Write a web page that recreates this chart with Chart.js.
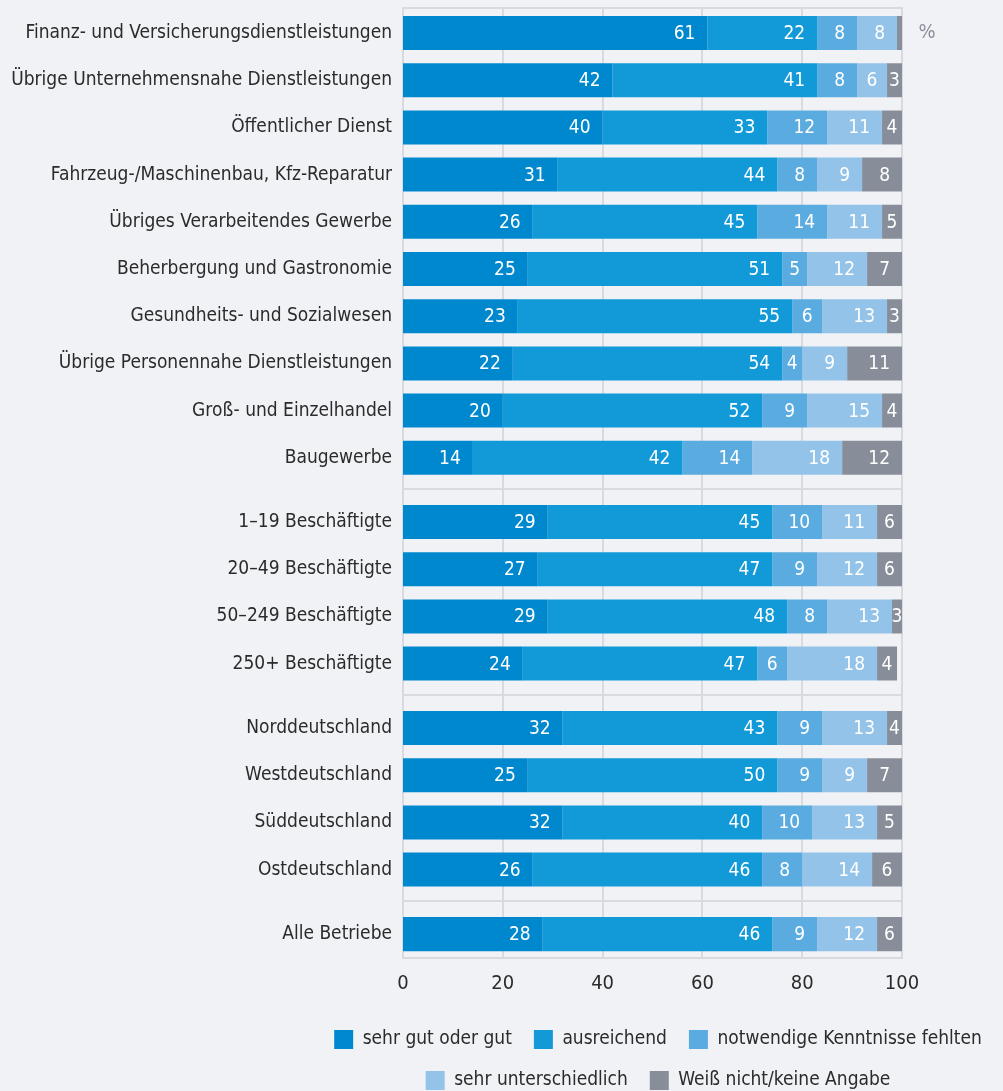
<!DOCTYPE html>
<html lang="de">
<head>
<meta charset="utf-8">
<script src="https://cdn.jsdelivr.net/npm/chart.js@4.4.1/dist/chart.umd.min.js"></script>
<style>
  html, body { margin: 0; padding: 0; background: #f1f2f6; overflow: hidden; }
  #wrap { position: relative; width: 1003px; height: 1091px; overflow: hidden; }
  #wrap canvas { position: absolute; left: 0; }
</style>
</head>
<body>
<div id="wrap">
  <canvas id="c0" width="1100" height="489" style="top:0"></canvas>
  <canvas id="c1" width="1100" height="206" style="top:489px"></canvas>
  <canvas id="c2" width="1100" height="206" style="top:695px"></canvas>
  <canvas id="c3" width="1100" height="199" style="top:901px"></canvas>
</div>
<script>
// rows, top to bottom; groups are drawn as separate panels
var categories = [
  'Finanz- und Versicherungsdienstleistungen',
  'Übrige Unternehmensnahe Dienstleistungen',
  'Öffentlicher Dienst',
  'Fahrzeug-/Maschinenbau, Kfz-Reparatur',
  'Übriges Verarbeitendes Gewerbe',
  'Beherbergung und Gastronomie',
  'Gesundheits- und Sozialwesen',
  'Übrige Personennahe Dienstleistungen',
  'Groß- und Einzelhandel',
  'Baugewerbe',
  '1–19 Beschäftigte',
  '20–49 Beschäftigte',
  '50–249 Beschäftigte',
  '250+ Beschäftigte',
  'Norddeutschland',
  'Westdeutschland',
  'Süddeutschland',
  'Ostdeutschland',
  'Alle Betriebe'
];
var groupSizes = [10, 4, 4, 1];

var seriesNames = ['sehr gut oder gut', 'ausreichend', 'notwendige Kenntnisse fehlten', 'sehr unterschiedlich', 'Weiß nicht/keine Angabe'];
var sehrGut           = [61, 42, 40, 31, 26, 25, 23, 22, 20, 14, 29, 27, 29, 24, 32, 25, 32, 26, 28];
var ausreichend       = [22, 41, 33, 44, 45, 51, 55, 54, 52, 42, 45, 47, 48, 47, 43, 50, 40, 46, 46];
var kenntnisseFehlten = [ 8,  8, 12,  8, 14,  5,  6,  4,  9, 14, 10,  9,  8,  6,  9,  9, 10,  8,  9];
var unterschiedlich   = [ 8,  6, 11,  9, 11, 12, 13,  9, 15, 18, 11, 12, 13, 18, 13,  9, 13, 14, 12];
var weissNicht        = [ 1,  3,  4,  8,  5,  7,  3, 11,  4, 12,  6,  6,  3,  4,  4,  7,  5,  6,  6];
var xTicks = [0, 20, 40, 60, 80, 100];

var seriesValues = [sehrGut, ausreichend, kenntnisseFehlten, unterschiedlich, weissNicht];
var seriesColors = ['#0088cf', '#129ad8', '#5aabdf', '#93c3e8', '#878e99'];
var FONT = '"Liberation Sans Narrow", "DejaVu Sans Condensed", "Liberation Sans", sans-serif';
var TEXT = '#2b2b2b';
var GRID = '#d9dadf';

// grid lines and frame, also through the gaps between the panels
var framePlugin = {
  id: 'frame',
  beforeDatasetsDraw: function (chart, args, opts) {
    var ctx = chart.ctx, a = chart.chartArea, x = chart.scales.x;
    var top = opts.first ? a.top - 1.4 : 0;
    var bottom = opts.last ? a.bottom : chart.height;
    ctx.save();
    ctx.strokeStyle = GRID;
    ctx.lineWidth = 2;
    ctx.beginPath();
    xTicks.forEach(function (v) {
      var px = Math.round(x.getPixelForValue(v));
      ctx.moveTo(px, top);
      ctx.lineTo(px, bottom);
    });
    ctx.moveTo(a.left - 1, top); ctx.lineTo(a.right + 1, top);
    ctx.moveTo(a.left - 1, bottom); ctx.lineTo(a.right + 1, bottom);
    ctx.stroke();
    ctx.restore();
  },
  afterDraw: function (chart, args, opts) {
    if (!opts.unit) return;
    var ctx = chart.ctx, a = chart.chartArea, y = chart.scales.y;
    ctx.save();
    ctx.font = '20px ' + FONT;
    ctx.fillStyle = '#8a8f99';
    ctx.textAlign = 'center';
    ctx.textBaseline = 'middle';
    ctx.fillText(opts.unit, a.right + 25, y.getPixelForValue(0));
    ctx.restore();
  }
};

// white numbers at the right end of each segment
var valueLabels = {
  id: 'valueLabels',
  afterDatasetsDraw: function (chart) {
    var ctx = chart.ctx, a = chart.chartArea;
    ctx.save();
    ctx.font = '19px ' + FONT;
    ctx.fillStyle = '#ffffff';
    ctx.textAlign = 'right';
    ctx.textBaseline = 'middle';
    chart.data.datasets.forEach(function (ds, i) {
      chart.getDatasetMeta(i).data.forEach(function (bar, j) {
        var v = ds.data[j];
        if (v < 2) return;
        var end = Math.min(bar.x, a.right);
        var w = ctx.measureText(String(v)).width;
        var right = Math.max((bar.base + end) / 2 + w / 2, end - 12);
        ctx.fillText(String(v), right, bar.y + 1);
      });
    });
    ctx.restore();
  }
};

function makePanel(id, from, to, first, last) {
  var labels = categories.slice(from, to);
  var datasets = seriesNames.map(function (name, i) {
    return {
      label: name,
      data: seriesValues[i].slice(from, to),
      backgroundColor: seriesColors[i],
      borderWidth: 0,
      barPercentage: 0.72,
      categoryPercentage: 1,
      clip: 0
    };
  });
  var scales = {
    x: {
      type: 'linear', stacked: true, min: 0, max: 100,
      display: last,
      afterBuildTicks: function (s) { s.ticks = xTicks.map(function (v) { return { value: v }; }); },
      afterFit: function (s) {
        s.height = last ? 50 : 0;
        s.paddingLeft = 0;
        s.paddingRight = 0;
      },
      grid: { display: false, drawTicks: false },
      border: { display: false },
      ticks: { color: TEXT, padding: 14, font: { family: FONT, size: 20 } }
    },
    y: {
      type: 'category', stacked: true,
      afterFit: function (s) {
        s.width = last ? 187 : 403;
        s.paddingTop = 0;
        s.paddingBottom = 0;
      },
      grid: { display: false, drawTicks: false },
      border: { display: false },
      ticks: { color: TEXT, padding: 11, font: { family: FONT, size: 19 } }
    }
  };
  var padding = { top: 9.4, bottom: first ? 7.6 : 7.8, left: 0, right: 198 };
  if (last) {
    padding = { top: 9.4, bottom: 0, left: 216, right: 0 };
    // empty right-hand axis keeps the plot at the same width as the panels above
    scales.spacer = {
      type: 'linear', position: 'right', display: true,
      afterFit: function (s) {
        s.width = 198;
        s.paddingTop = 0;
        s.paddingBottom = 0;
      },
      grid: { display: false, drawTicks: false },
      border: { display: false },
      ticks: { display: false }
    };
  }
  return new Chart(document.getElementById(id).getContext('2d'), {
    type: 'bar',
    data: { labels: labels, datasets: datasets },
    options: {
      indexAxis: 'y',
      responsive: false,
      animation: false,
      layout: { padding: padding },
      scales: scales,
      plugins: {
        tooltip: { enabled: false },
        legend: {
          display: last,
          position: 'bottom',
          labels: {
            color: TEXT,
            boxWidth: 19,
            boxHeight: 19,
            padding: 22,
            font: { family: FONT, size: 19 }
          }
        },
        frame: { first: first, last: last, unit: first ? '%' : '' }
      }
    },
    plugins: [framePlugin, valueLabels]
  });
}

var start = 0;
groupSizes.forEach(function (n, g) {
  makePanel('c' + g, start, start + n, g === 0, g === groupSizes.length - 1);
  start += n;
});
</script>
</body>
</html>
